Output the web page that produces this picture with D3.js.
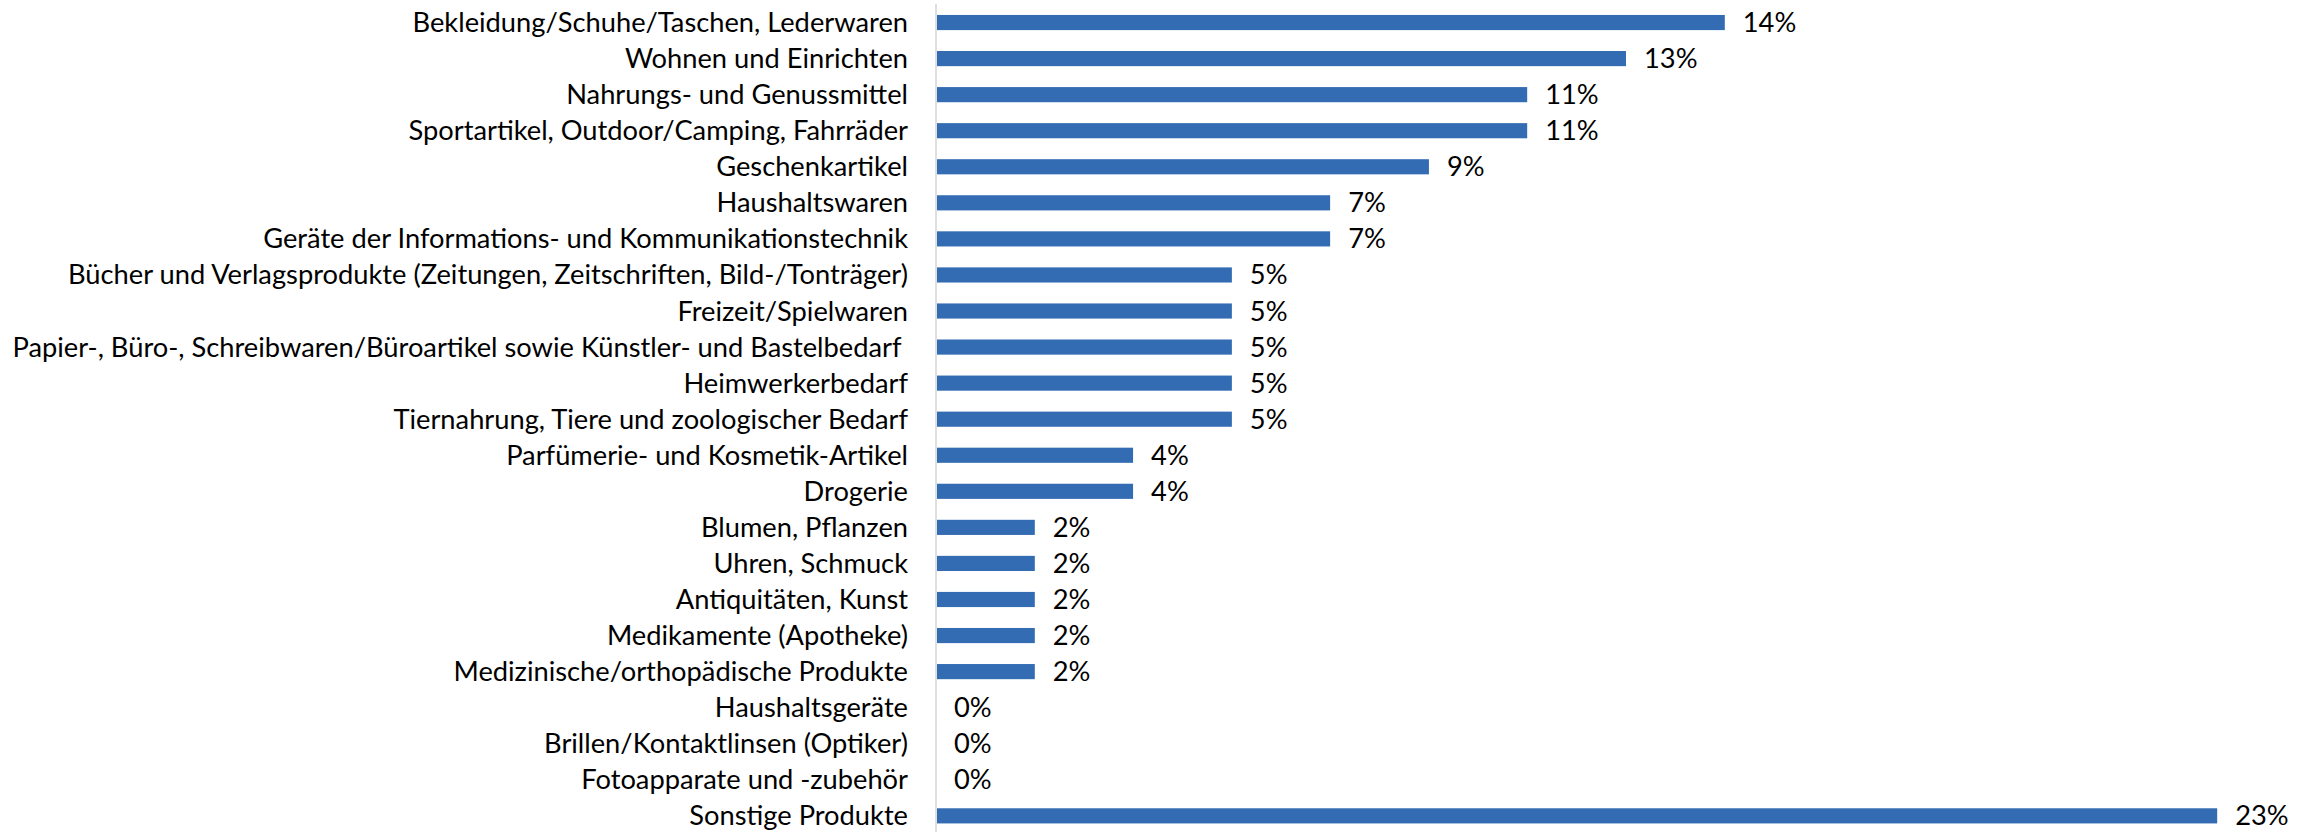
<!DOCTYPE html>
<html>
<head>
<meta charset="utf-8">
<script src="https://cdn.jsdelivr.net/npm/d3@7"></script>
<style>
  body { margin: 0; background: #fff; }
  text { font-family: Lato, "Open Sans", sans-serif; fill: #000; }
</style>
</head>
<body>
<svg width="2310" height="832"></svg>
<script>
var categories = [
  "Bekleidung/Schuhe/Taschen, Lederwaren",
  "Wohnen und Einrichten",
  "Nahrungs- und Genussmittel",
  "Sportartikel, Outdoor/Camping, Fahrräder",
  "Geschenkartikel",
  "Haushaltswaren",
  "Geräte der Informations- und Kommunikationstechnik",
  "Bücher und Verlagsprodukte (Zeitungen, Zeitschriften, Bild-/Tonträger)",
  "Freizeit/Spielwaren",
  "Papier-, Büro-, Schreibwaren/Büroartikel sowie Künstler- und Bastelbedarf ",
  "Heimwerkerbedarf",
  "Tiernahrung, Tiere und zoologischer Bedarf",
  "Parfümerie- und Kosmetik-Artikel",
  "Drogerie",
  "Blumen, Pflanzen",
  "Uhren, Schmuck",
  "Antiquitäten, Kunst",
  "Medikamente (Apotheke)",
  "Medizinische/orthopädische Produkte",
  "Haushaltsgeräte",
  "Brillen/Kontaktlinsen (Optiker)",
  "Fotoapparate und -zubehör",
  "Sonstige Produkte"
];

// percent values
var values = [14.29, 12.5, 10.71, 10.71, 8.93, 7.14, 7.14, 5.36, 5.36, 5.36, 5.36, 5.36,
  3.57, 3.57, 1.79, 1.79, 1.79, 1.79, 1.79, 0, 0, 0, 23.21];

var data = categories.map(function(c, i) { return {name: c, value: values[i]}; });

var svg = d3.select("svg"),
    x0 = 936;

var x = d3.scaleLinear().domain([0, 25]).range([x0, x0 + 25 * 55.2]);

var y = d3.scaleBand()
    .domain(categories)
    .range([4.5, 4.5 + 23 * 36.06])
    .paddingInner(0.58)
    .paddingOuter(0.29);

// axis line
svg.append("line")
    .attr("x1", x0).attr("x2", x0)
    .attr("y1", 4).attr("y2", 832)
    .attr("stroke", "#d4d4d4")
    .attr("stroke-width", 1.5);

svg.selectAll(".bar")
  .data(data)
  .enter().append("rect")
    .attr("class", "bar")
    .attr("x", x(0) + 1)
    .attr("y", function(d) { return y(d.name); })
    .attr("width", function(d) { return Math.max(0, x(d.value) - x(0) - 1); })
    .attr("height", y.bandwidth())
    .attr("fill", "#336cb3");

var fontSize = 27;

var labels = svg.selectAll(".label")
  .data(data)
  .enter().append("text")
    .attr("class", "label")
    .attr("x", 908)
    .attr("y", function(d) { return y(d.name) + y.bandwidth() / 2; })
    .attr("dy", "0.35em")
    .attr("text-anchor", "end")
    .style("font-size", fontSize + "px")
    .style("white-space", "pre")
    .text(function(d) { return d.name; });

// shrink font so the longest label fits like the original
var widest = d3.max(labels.nodes(), function(n) { return n.getComputedTextLength(); });
fontSize = fontSize * 896 / widest;
labels.style("font-size", fontSize + "px");

svg.selectAll(".value")
  .data(data)
  .enter().append("text")
    .attr("class", "value")
    .attr("x", function(d) { return x(d.value) + 18; })
    .attr("y", function(d) { return y(d.name) + y.bandwidth() / 2; })
    .attr("dy", "0.35em")
    .style("font-size", fontSize + "px")
    .text(function(d) { return Math.round(d.value) + "%"; });
</script>
</body>
</html>
